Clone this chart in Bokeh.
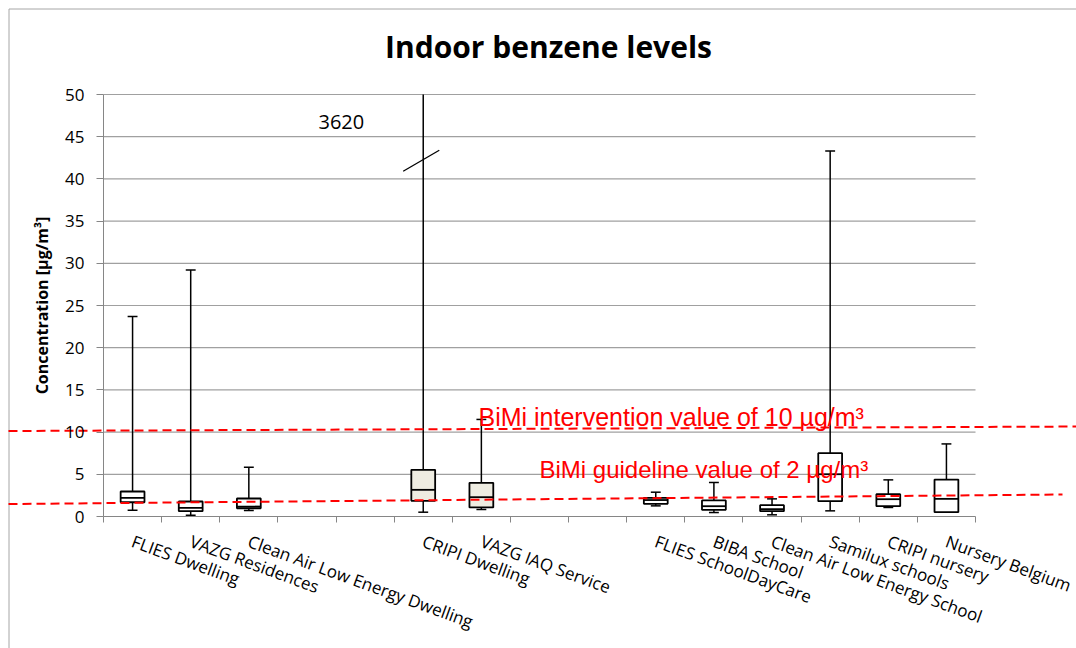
from bokeh.plotting import figure
from bokeh.models import FixedTicker, LinearAxis, ColumnDataSource
from bokeh.core.properties import value
from bokeh.embed import file_html
from bokeh.resources import INLINE

# ---------------- data ----------------
categories = ["FLIES Dwelling", "VAZG Residences", "Clean Air Low Energy Dwelling", "", "",
              "CRIPI Dwelling", "VAZG IAQ Service", "", "",
              "FLIES SchoolDayCare", "BIBA School", "Clean Air Low Energy School",
              "Samilux schools", "CRIPI nursery", "Nursery Belgium"]
box_names = [c for c in categories if c]
minimum = [0.74, 0.16, 0.71, 0.51, 0.83, 1.26, 0.47, 0.20, 0.67, 1.07, 0.51]
q1      = [1.69, 0.63, 0.98, 1.86, 1.07, 1.50, 0.79, 0.63, 1.82, 1.22, 0.51]
median  = [2.20, 1.03, 1.18, 3.16, 2.29, 1.95, 1.22, 0.87, 5.01, 2.05, 2.09]
q3      = [2.96, 1.78, 2.13, 5.53, 3.99, 2.21, 1.90, 1.34, 7.50, 2.65, 4.38]
maximum = [23.7, 29.2, 5.84, 3620, 11.5, 2.88, 4.03, 2.09, 43.3, 4.34, 8.60]
box_fill = ["white", "white", "white", "#EEECE1", "#EEECE1",
            "white", "white", "white", "white", "white", "white"]
y_ticks = [0, 5, 10, 15, 20, 25, 30, 35, 40, 45, 50]
Y_MAX = 50
intervention_ends = [10.13, 10.66]   # hand-drawn, slightly tilted reference line
guideline_ends = [1.48, 2.61]
off_scale_label = "3620"
title_text = "Indoor benzene levels"
intervention_text = "BiMi intervention value of 10 µg/m³"
guideline_text = "BiMi guideline value of 2 µg/m³"

# ---------------- layout (pixel geometry of the plot area) ----------------
W, H = 1076, 648
PX_LEFT, PX_RIGHT, PX_TOP, PX_BOTTOM = 103, 975, 94, 516
NCAT = len(categories)
sx = (PX_RIGHT - PX_LEFT) / NCAT
sy = (PX_BOTTOM - PX_TOP) / Y_MAX
def px2x(px): return (px - PX_LEFT) / sx
def px2y(py): return (PX_BOTTOM - py) / sy

BOX_W = 0.41
CAP_W = 0.17
xs = [categories.index(n) + 0.5 for n in box_names]
hi_shown = [min(h, Y_MAX) for h in maximum]
cap_x = [x for x, h in zip(xs, maximum) if h <= Y_MAX]
cap_y = [h for h in maximum if h <= Y_MAX]

src = ColumnDataSource(dict(
    x=xs, lo=minimum, q1=q1, med=median, q3=q3, hi=hi_shown, fill=box_fill,
    xl=[x - BOX_W / 2 for x in xs], xr=[x + BOX_W / 2 for x in xs],
    cl=[x - CAP_W / 2 for x in xs], cr=[x + CAP_W / 2 for x in xs],
))

p = figure(width=W, height=H, x_range=(px2x(0), px2x(W)), y_range=(px2y(H), px2y(0)),
           output_backend="svg", toolbar_location=None, x_axis_type=None, y_axis_type=None,
           min_border=0, min_border_left=0, min_border_right=0,
           min_border_top=0, min_border_bottom=0)
p.outline_line_color = None
p.background_fill_color = "white"
p.border_fill_color = "white"
p.xgrid.visible = False
p.ygrid.visible = False

# chart border (left / top edges visible)
p.segment(x0=[px2x(8.5)], y0=[px2y(8.5)], x1=[px2x(8.5)], y1=[px2y(H)], line_color="#a6a6a6", line_width=1)
p.segment(x0=[px2x(8.5)], y0=[px2y(8.5)], x1=[px2x(W)], y1=[px2y(8.5)], line_color="#a6a6a6", line_width=1)

# horizontal gridlines
gy = [t for t in y_ticks if t > 0]
p.segment(x0=[0] * len(gy), y0=gy, x1=[NCAT] * len(gy), y1=gy, line_color="#a0a0a0", line_width=1.2)

# y axis
yaxis = LinearAxis(fixed_location=0, bounds=(0, Y_MAX), ticker=FixedTicker(ticks=y_ticks))
yaxis.axis_label = "Concentration [µg/m³]"
yaxis.axis_label_text_font = "Open Sans"
yaxis.axis_label_text_font_size = "16px"
yaxis.axis_label_text_font_style = "bold"
yaxis.axis_label_text_color = "black"
yaxis.axis_label_standoff = 9
yaxis.major_label_text_font = "Open Sans"
yaxis.major_label_text_font_size = "17px"
yaxis.major_label_text_color = "black"
yaxis.major_label_standoff = 12
yaxis.axis_line_color = "#868686"
yaxis.major_tick_line_color = "#868686"
yaxis.major_tick_out = 7
yaxis.major_tick_in = 0
yaxis.minor_tick_line_color = None
p.add_layout(yaxis, "left")

# x axis
centers = [i + 0.5 for i in range(NCAT)]
xaxis = LinearAxis(fixed_location=0, bounds=(0, NCAT),
                   ticker=FixedTicker(ticks=centers, minor_ticks=list(range(NCAT + 1))))
xaxis.major_label_overrides = {c: name for c, name in zip(centers, categories)}
xaxis.major_label_orientation = -0.35
xaxis.major_label_text_font = "Open Sans"
xaxis.major_label_text_font_size = "17px"
xaxis.major_label_text_color = "black"
xaxis.major_label_standoff = 18
xaxis.axis_line_color = "#868686"
xaxis.major_tick_line_color = None
xaxis.major_tick_out = 0
xaxis.major_tick_in = 0
xaxis.minor_tick_line_color = "#868686"
xaxis.minor_tick_out = 6
xaxis.minor_tick_in = 0
p.add_layout(xaxis, "below")

# title
p.text(x=[px2x(548)], y=[px2y(46)], text=[title_text], text_font=value("Open Sans"),
       text_font_size="30px", text_font_style="bold", text_color="black",
       text_align="center", text_baseline="alphabetic")

# whiskers
p.segment(x0="x", y0="q3", x1="x", y1="hi", source=src, line_color="black", line_width=1.5)
p.segment(x0="x", y0="q1", x1="x", y1="lo", source=src, line_color="black", line_width=1.5)
p.segment(x0=[x - CAP_W / 2 for x in cap_x], y0=cap_y, x1=[x + CAP_W / 2 for x in cap_x], y1=cap_y,
          line_color="black", line_width=1.5)
p.segment(x0="cl", y0="lo", x1="cr", y1="lo", source=src, line_color="black", line_width=1.5)
# boxes
p.vbar(x="x", width=BOX_W, bottom="q1", top="q3", source=src, fill_color="fill",
       line_color="black", line_width=1.8)
p.segment(x0="xl", y0="med", x1="xr", y1="med", source=src, line_color="black", line_width=1.8)

# axis-break mark on the off-scale whisker
cx = xs[box_names.index("CRIPI Dwelling")]
p.segment(x0=[cx - 0.345], y0=[40.9], x1=[cx + 0.276], y1=[43.4], line_color="black", line_width=1.3)
p.text(x=[px2x(318)], y=[px2y(121)], text=[off_scale_label], text_font=value("Open Sans"),
       text_font_size="20px", text_color="black", text_baseline="alphabetic", text_align="left")

# dashed guideline lines (extend beyond the plot area)
p.segment(x0=[px2x(8)], y0=[intervention_ends[0]], x1=[px2x(1076)], y1=[intervention_ends[1]],
          line_color="red", line_width=2, line_dash="9 5")
p.segment(x0=[px2x(8)], y0=[guideline_ends[0]], x1=[px2x(1062)], y1=[guideline_ends[1]],
          line_color="red", line_width=2, line_dash="9 5")

# guideline texts
p.text(x=[px2x(478)], y=[px2y(416)], text=[intervention_text], text_font=value("Liberation Sans"),
       text_font_size="25px", text_color="red", text_baseline="alphabetic", text_align="left")
p.text(x=[px2x(539)], y=[px2y(468.5)], text=[guideline_text], text_font=value("Liberation Sans"),
       text_font_size="24px", text_color="red", text_baseline="alphabetic", text_align="left")

open("out.html", "w").write(file_html(p, INLINE))
